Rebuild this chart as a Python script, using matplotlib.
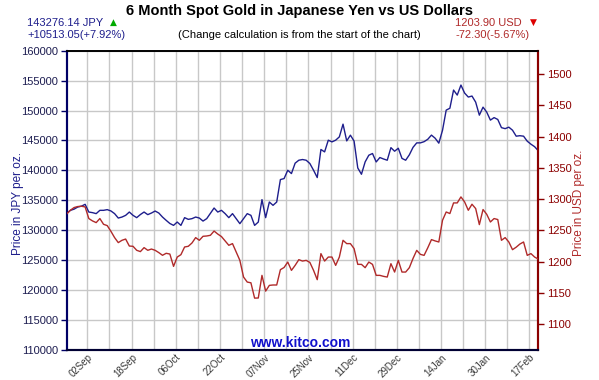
import numpy as np
import matplotlib
matplotlib.use("Agg")
import matplotlib.pyplot as plt
from matplotlib.ticker import FixedLocator

# ---------------- data ----------------
jpy_values = [
    132763, 133303, 133500, 133857, 134000, 134310, 133018, 132918, 132750, 133303,
    133303, 133420, 133200, 132749, 132011, 132179, 132464, 133018, 132464, 132078,
    132600, 133018, 132582, 132850, 133186, 132850, 132179, 131625, 131100, 130786,
    131340, 130786, 132078, 131793, 131910, 132179, 132011, 131507, 131910, 132800,
    133689, 133018, 133303, 132749, 132078, 132749, 131910, 131072, 131910, 132749,
    132464, 130786, 131340, 135097, 132078, 134694, 134141, 134694, 138455, 138623,
    140015, 139461, 141200, 141693, 141811, 141693, 141140, 140015, 138791, 143493,
    143090, 145049, 144764, 145049, 145603, 147734, 144932, 145888, 144900, 140400,
    139344, 141408, 142532, 142818, 141408, 142146, 141900, 141693, 143800, 143200,
    143700, 142000, 141693, 142600, 143850, 144596, 144600, 144800, 145200, 145900,
    145380, 144550, 146700, 150080, 150400, 153440, 152600, 154280, 152940, 152270,
    152440, 151420, 149240, 150580, 149750, 148410, 148830, 148520, 147150, 146980,
    147230, 146720, 145720, 145800, 145720, 144880, 144380, 143960, 143276,
]

usd_values = [
    1276.2, 1282.1, 1286.4, 1288.0, 1288.5, 1287.4, 1268.8, 1265.0, 1262.3, 1268.8,
    1259.6, 1257.5, 1248.4, 1238.3, 1230.3, 1234.0, 1236.0, 1224.8, 1224.4, 1218.0,
    1215.9, 1222.3, 1218.0, 1220.0, 1218.0, 1214.3, 1210.0, 1213.2, 1212.0, 1192.3,
    1207.2, 1211.0, 1223.3, 1224.4, 1229.7, 1238.3, 1234.0, 1240.4, 1240.9, 1242.0,
    1248.8, 1244.0, 1240.0, 1232.9, 1226.0, 1228.7, 1215.3, 1201.9, 1175.2, 1167.2,
    1166.0, 1141.5, 1141.7, 1177.9, 1152.7, 1161.9, 1162.5, 1162.5, 1187.0, 1190.5,
    1199.2, 1185.9, 1193.9, 1203.0, 1200.8, 1201.9, 1198.6, 1185.9, 1171.0, 1212.7,
    1200.8, 1207.2, 1207.2, 1193.9, 1207.2, 1234.0, 1228.7, 1228.7, 1220.7, 1195.5,
    1195.5, 1190.2, 1199.2, 1195.5, 1177.9, 1177.9, 1176.3, 1175.2, 1196.6, 1183.2,
    1201.9, 1183.2, 1183.2, 1190.2, 1205.0, 1217.9, 1211.5, 1209.9, 1222.0, 1235.1,
    1233.0, 1231.3, 1266.0, 1279.3, 1276.8, 1293.8, 1293.8, 1303.4, 1295.4, 1282.0,
    1291.7, 1284.8, 1259.1, 1283.2, 1275.6, 1263.3, 1268.8, 1267.2, 1234.0, 1238.3,
    1231.3, 1219.0, 1223.0, 1228.0, 1231.3, 1209.9, 1212.7, 1207.2, 1203.9,
]

date_labels = ["02Sep", "18Sep", "06Oct", "22Oct", "07Nov", "25Nov",
               "11Dec", "29Dec", "14Jan", "30Jan", "17Feb"]

jpy_ticks = list(range(110000, 160001, 5000))
usd_ticks = list(range(1100, 1501, 50))

title = "6 Month Spot Gold in Japanese Yen vs US Dollars"
subtitle = "(Change calculation is from the start of the chart)"
jpy_price_text = "143276.14 JPY"
jpy_change_text = "+10513.05(+7.92%)"
usd_price_text = "1203.90 USD"
usd_change_text = "-72.30(-5.67%)"

# ---------------- styling ----------------
plt.rcParams['font.family'] = ['Liberation Sans', 'DejaVu Sans']
NAVY = '#1e1e8c'
DRED = '#b02a2a'
LAXIS = '#000066'
RAXIS = '#8b0000'
GRID = '#c8c8c8'

fig = plt.figure(figsize=(5.99, 3.80), dpi=100)
L, R = 66.7 / 599, 538.3 / 599
T, B = 1 - 50.9 / 380, 1 - 349.5 / 380
ax = fig.add_axes([L, B, R - L, T - B])
ax2 = ax.twinx()

x = np.arange(len(jpy_values))
ax.plot(x, jpy_values, color=NAVY, lw=1.0, zorder=3)
ax2.plot(np.arange(len(usd_values)), usd_values, color=DRED, lw=1.0, zorder=3)

first_label = 5.6
step = 12
ax.set_xlim(0, len(jpy_values) - 1)
ax.set_ylim(110000, 160000)
ax2.set_ylim(1059.3, 1537.0)

label_pos = [first_label + step * k for k in range(len(date_labels))]
grid_pos = [first_label + step / 2 * k for k in range(2 * len(date_labels) - 1)]
ax.xaxis.set_major_locator(FixedLocator(label_pos))
ax.set_xticklabels(date_labels, rotation=45, ha='right', va='top',
                   rotation_mode='anchor', fontsize=7, color='#3a3a3a')
ax.tick_params(axis='x', length=0, pad=2)
for gx in grid_pos:
    ax.axvline(gx, color=GRID, lw=1.0, zorder=1)

ax.yaxis.set_major_locator(FixedLocator(jpy_ticks))
ax.set_yticklabels([str(v) for v in jpy_ticks], fontsize=8, color='#1c1c50')
ax.tick_params(axis='y', length=4, width=1, color=LAXIS, pad=2)
for gy in jpy_ticks:
    ax.axhline(gy, color=GRID, lw=1.0, zorder=1)

ax2.yaxis.set_major_locator(FixedLocator(usd_ticks))
ax2.set_yticklabels([str(v) for v in usd_ticks], fontsize=8, color=RAXIS)
ax2.tick_params(axis='y', length=4, width=1, color=RAXIS, pad=2)

for a in (ax, ax2):
    a.spines['left'].set_color(LAXIS)
    a.spines['left'].set_linewidth(1.5)
    a.spines['right'].set_color(RAXIS)
    a.spines['right'].set_linewidth(1.5)
    a.spines['top'].set_color('black')
    a.spines['top'].set_linewidth(1.2)
    a.spines['bottom'].set_color('#000033')
    a.spines['bottom'].set_linewidth(1.5)

ax.set_ylabel("Price in JPY per oz.", fontsize=8.5, color=NAVY)
ax.yaxis.set_label_coords(-0.09, 0.49)
ax2.set_ylabel("Price in USD per oz.", fontsize=8.5, color=DRED, rotation=90)
ax2.yaxis.set_label_coords(1.074, 0.49)

# ---------------- header texts ----------------
fig.text(0.5, 1 - 11 / 380, title, ha='center', va='center',
         fontsize=10.5, fontweight='bold', color='black')
fig.text(0.5, 1 - 35 / 380, subtitle, ha='center', va='center',
         fontsize=8, color='black')
fig.text(27 / 599, 1 - 23 / 380, jpy_price_text, ha='left', va='center',
         fontsize=8, color=NAVY)
fig.text(113 / 599, 1 - 22 / 380, "\u25B2", ha='center', va='center',
         fontsize=6.5, color='#00aa00', family='DejaVu Sans')
fig.text(27 / 599, 1 - 35 / 380, jpy_change_text, ha='left', va='center',
         fontsize=8, color=NAVY)
fig.text(455 / 599, 1 - 23 / 380, usd_price_text, ha='left', va='center',
         fontsize=8, color=DRED)
fig.text(533 / 599, 1 - 22 / 380, "\u25BC", ha='center', va='center',
         fontsize=6.5, color='#dd0000', family='DejaVu Sans')
fig.text(455 / 599, 1 - 35 / 380, usd_change_text, ha='left', va='center',
         fontsize=8, color=DRED)

fig.text(300 / 599, 1 - 343 / 380, "www.kitco.com", ha='center', va='center',
         fontsize=10, fontweight='bold', color='#1010cc')

fig.savefig("out.png", dpi=100)
